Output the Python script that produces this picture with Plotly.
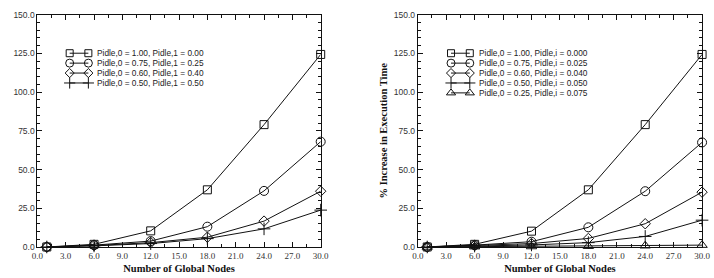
import plotly.graph_objects as go

# ---- data ----
nodes = [1, 6, 12, 18, 24, 30]

left_names = [
    "Pidle,0 = 1.00, Pidle,1 = 0.00",
    "Pidle,0 = 0.75, Pidle,1 = 0.25",
    "Pidle,0 = 0.60, Pidle,1 = 0.40",
    "Pidle,0 = 0.50, Pidle,1 = 0.50",
]
left_values = [
    [0.0, 1.7, 10.4, 36.9, 79.0, 124.3],
    [0.0, 1.2, 3.8, 13.1, 36.2, 68.0],
    [0.0, 0.9, 2.8, 6.3, 16.7, 36.0],
    [0.0, 0.7, 2.2, 5.4, 11.7, 23.8],
]

right_names = [
    "Pidle,0 = 1.00, Pidle,i = 0.000",
    "Pidle,0 = 0.75, Pidle,i = 0.025",
    "Pidle,0 = 0.60, Pidle,i = 0.040",
    "Pidle,0 = 0.50, Pidle,i = 0.050",
    "Pidle,0 = 0.25, Pidle,i = 0.075",
]
right_values = [
    [0.0, 1.7, 10.2, 36.9, 79.0, 124.3],
    [0.0, 1.2, 3.4, 12.7, 36.0, 67.5],
    [0.0, 0.9, 2.2, 5.5, 15.0, 35.4],
    [0.0, 0.6, 1.3, 2.8, 6.8, 17.3],
    [0.0, 0.2, 0.3, 0.5, 0.8, 1.2],
]

symbols = ["square-open", "circle-open", "diamond-open", "cross-thin-open", "triangle-up-open"]
sizes = [8, 9, 8, 9, 9]

x_title = "Number of Global Nodes"
y_title = "% Increase in Execution Time"

# ---- figure ----
fig = go.Figure()
W, H = 714, 278
LINE = "#111111"

dom_left = [32 / W, 321 / W]
dom_right = [420 / W, 710 / W]
dom_y = [(H - 251) / H, (H - 10) / H]


def add_series(names, values, xa, ya):
    for i, (n, v) in enumerate(zip(names, values)):
        fig.add_trace(go.Scatter(
            x=nodes, y=v, name=n, mode="lines+markers", showlegend=False,
            xaxis=xa, yaxis=ya, cliponaxis=False,
            line=dict(color=LINE, width=1),
            marker=dict(symbol=symbols[i], size=sizes[i], color=LINE,
                        line=dict(color=LINE, width=1)),
        ))


add_series(left_names, left_values, "x", "y")
add_series(right_names, right_values, "x2", "y2")

# legend samples drawn on overlay axes (layout positions, 0..1)
leg_x0, leg_x1, leg_tx = 0.114, 0.180, 0.205
leg_y0, leg_dy = 0.834, 0.0427


def add_legend(names, xa, ya, xref, yref, shift=0.0):
    for i, n in enumerate(names):
        yy = leg_y0 - i * leg_dy
        fig.add_trace(go.Scatter(
            x=[leg_x0 + shift, leg_x1 + shift], y=[yy, yy], mode="lines+markers",
            showlegend=False, xaxis=xa, yaxis=ya, hoverinfo="skip",
            line=dict(color=LINE, width=1),
            marker=dict(symbol=symbols[i], size=sizes[i] - 1, color=LINE,
                        line=dict(color=LINE, width=1)),
        ))
        fig.add_annotation(
            x=leg_tx + shift, y=yy, xref=xref, yref=yref, text=n, showarrow=False,
            xanchor="left", yanchor="middle",
            font=dict(family="Liberation Sans, Arial, sans-serif", size=8.3, color="#222"),
        )


add_legend(left_names, "x3", "y3", "x domain", "y domain")
add_legend(right_names, "x4", "y4", "x2 domain", "y2 domain", shift=0.003)

tickfont_y = dict(family="Liberation Sans, Arial, sans-serif", size=8.5, color="#333")
tickfont_x = dict(family="Liberation Serif, Times New Roman, serif", size=9, color="#333")
titlefont = dict(family="Liberation Serif, Times New Roman, serif", size=10.5, color="#111")

xcommon = dict(range=[0, 30], tick0=0, dtick=3, tickformat=".1f", ticks="inside",
               ticklen=5, tickcolor=LINE, showline=True, linecolor=LINE, linewidth=1,
               mirror="ticks", showgrid=False, zeroline=False, tickfont=tickfont_x,
               minor=dict(dtick=1.5, ticks="inside", ticklen=3, tickcolor=LINE, showgrid=False))
ycommon = dict(range=[0, 150], tick0=0, dtick=25, tickformat=".1f", ticks="inside",
               ticklen=5, tickcolor=LINE, showline=True, linecolor=LINE, linewidth=1,
               mirror="ticks", showgrid=False, zeroline=False, tickfont=tickfont_y,
               minor=dict(dtick=5, ticks="inside", ticklen=3, tickcolor=LINE, showgrid=False))

xl = dict(xcommon); xl.update(domain=dom_left, anchor="y",
                              title=dict(text="<b>" + x_title + "</b>", font=titlefont, standoff=4))
xr = dict(xcommon); xr.update(domain=dom_right, anchor="y2",
                              title=dict(text="<b>" + x_title + "</b>", font=titlefont, standoff=4))
yl = dict(ycommon); yl.update(domain=dom_y, anchor="x")
yr = dict(ycommon); yr.update(domain=dom_y, anchor="x2",
                              title=dict(text="<b>" + y_title + "</b>", font=titlefont, standoff=4))

hidden = dict(range=[0, 1], visible=False, showgrid=False, zeroline=False, fixedrange=True)

fig.update_layout(
    width=W, height=H,
    margin=dict(l=0, r=0, t=0, b=0),
    paper_bgcolor="white", plot_bgcolor="white",
    showlegend=False,
    xaxis=xl, yaxis=yl, xaxis2=xr, yaxis2=yr,
    xaxis3=dict(hidden, overlaying="x", anchor="y3"),
    yaxis3=dict(hidden, overlaying="y", anchor="x3"),
    xaxis4=dict(hidden, overlaying="x2", anchor="y4"),
    yaxis4=dict(hidden, overlaying="y2", anchor="x4"),
)

fig.write_html("out.html")
